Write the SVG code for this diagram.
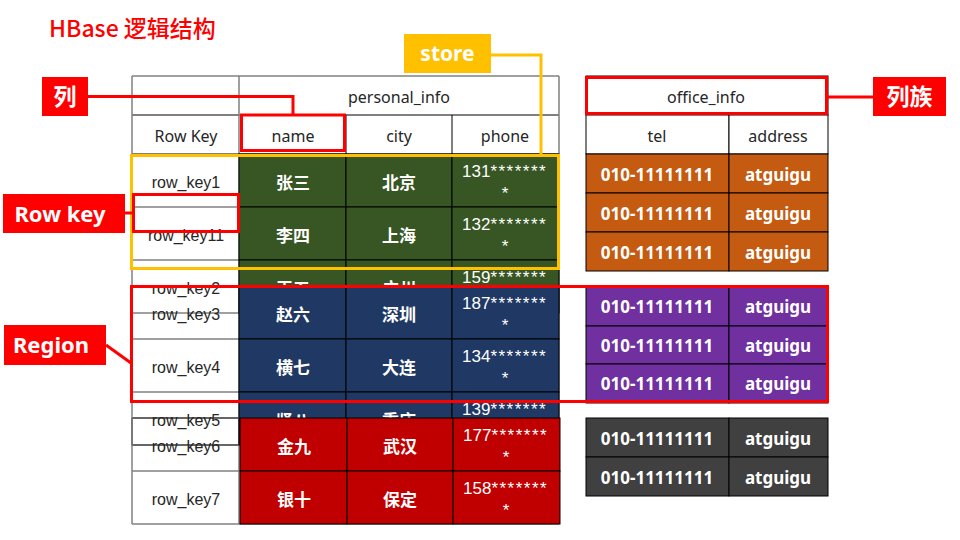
<svg xmlns="http://www.w3.org/2000/svg" width="960" height="540" viewBox="0 0 960 540">
<style>
.hdr{font-family:"Noto Sans","Noto Sans CJK SC",sans-serif;font-size:16px;fill:#262626;text-anchor:middle}
.rk{font-family:"Liberation Sans",Arial,sans-serif;font-size:16px;fill:#262626;text-anchor:middle}
.cn{font-family:"Noto Sans CJK SC",sans-serif;font-size:17px;font-weight:bold;fill:#fff;text-anchor:middle}
.ph{font-family:"Liberation Sans",Arial,sans-serif;font-size:17px;fill:#fff}
.ast{letter-spacing:1.5px}
.rt{font-family:"Noto Sans","Noto Sans CJK SC",sans-serif;font-size:17px;font-weight:bold;fill:#fff;text-anchor:middle}
.lbl{font-family:"Noto Sans","Noto Sans CJK SC",sans-serif;font-weight:bold;fill:#fff;text-anchor:middle}
.g{fill:#375623;stroke:#000;stroke-width:1}
.b{fill:#203864;stroke:#000;stroke-width:1}
.r{fill:#C00000;stroke:#000;stroke-width:1}
.o{fill:#C55A11;stroke:#000;stroke-width:1}
.p{fill:#7030A0;stroke:#000;stroke-width:1}
.d{fill:#404040;stroke:#000;stroke-width:1}
.gl{stroke:#808080;stroke-width:1.5;fill:none}
.bl{stroke:#000;stroke-width:1;fill:none}
.red{stroke:#FF0000;stroke-width:3;fill:none}
.yel{stroke:#FFC000;stroke-width:3;fill:none}
</style>
<rect width="960" height="540" fill="#fff"/>
<text id="title" x="49" y="37" font-family="'Noto Sans CJK SC','Noto Sans',sans-serif" font-size="23" font-weight="500" fill="#FF0000">HBase 逻辑结构</text>

<g id="left-table">
  <line class="gl" x1="132" y1="76" x2="559" y2="76"/>
  <line class="bl" x1="132" y1="115" x2="559" y2="115"/>
  <line class="gl" x1="239" y1="76" x2="239" y2="154"/>
  <line class="bl" x1="346" y1="115" x2="346" y2="154"/>
  <line class="bl" x1="452" y1="115" x2="452" y2="154"/>
  <line class="bl" x1="132" y1="154" x2="559" y2="154"/>
  <text class="hdr" x="399" y="102.5">personal_info</text>
  <text class="hdr" x="186" y="141.5">Row Key</text>
  <text class="hdr" x="293" y="141.5">name</text>
  <text class="hdr" x="399" y="141.5">city</text>
  <text class="hdr" x="505" y="141.5">phone</text>
  <line class="gl" x1="132" y1="207" x2="239" y2="207"/>
  <line class="gl" x1="132" y1="260" x2="239" y2="260"/>
  <line class="gl" x1="132" y1="313" x2="239" y2="313"/>
  <line class="gl" x1="132" y1="339" x2="239" y2="339"/>
  <line class="gl" x1="132" y1="392" x2="239" y2="392"/>
  <line class="gl" x1="132" y1="471" x2="239" y2="471"/>
  <line class="gl" x1="132" y1="524" x2="559" y2="524"/>
  <rect x="132" y="418" width="107" height="27" fill="none" stroke="#000" stroke-width="1.2"/>
  <line class="gl" x1="132" y1="76" x2="132" y2="524"/>
  <line class="gl" x1="239" y1="154" x2="239" y2="524"/>
  <line class="gl" x1="559" y1="76" x2="559" y2="524"/>
  <text class="rk" x="186" y="188">row_key1</text>
  <text class="rk" x="186" y="241">row_key11</text>
  <text class="rk" x="186" y="294">row_key2</text>
  <text class="rk" x="186" y="320">row_key3</text>
  <text class="rk" x="186" y="373">row_key4</text>
  <text class="rk" x="186" y="426">row_key5</text>
  <text class="rk" x="186" y="452">row_key6</text>
  <text class="rk" x="186" y="505">row_key7</text>

  <g id="green-rows">
    <rect class="g" x="239" y="154" width="107" height="53"/><rect class="g" x="346" y="154" width="106" height="53"/><rect class="g" x="452" y="154" width="107" height="53"/>
    <rect class="g" x="239" y="207" width="107" height="53"/><rect class="g" x="346" y="207" width="106" height="53"/><rect class="g" x="452" y="207" width="107" height="53"/>
    <rect class="g" x="239" y="260" width="107" height="53"/><rect class="g" x="346" y="260" width="106" height="53"/><rect class="g" x="452" y="260" width="107" height="53"/>
    <text class="cn" x="293" y="189">张三</text><text class="cn" x="399" y="189">北京</text>
    <text class="ph" x="462" y="177">131<tspan class="ast">*******</tspan></text><text class="ph" x="505" y="199" text-anchor="middle">*</text>
    <text class="cn" x="293" y="242">李四</text><text class="cn" x="399" y="242">上海</text>
    <text class="ph" x="462" y="230">132<tspan class="ast">*******</tspan></text><text class="ph" x="505" y="252" text-anchor="middle">*</text>
    <text class="cn" x="293" y="295">王五</text><text class="cn" x="399" y="295">广州</text>
    <text class="ph" x="462" y="283">159<tspan class="ast">*******</tspan></text>
  </g>
  <g id="blue-rows">
    <rect class="b" x="239" y="286" width="107" height="53"/><rect class="b" x="346" y="286" width="106" height="53"/><rect class="b" x="452" y="286" width="107" height="53"/>
    <rect class="b" x="239" y="339" width="107" height="53"/><rect class="b" x="346" y="339" width="106" height="53"/><rect class="b" x="452" y="339" width="107" height="53"/>
    <rect class="b" x="239" y="392" width="107" height="53"/><rect class="b" x="346" y="392" width="106" height="53"/><rect class="b" x="452" y="392" width="107" height="53"/>
    <text class="cn" x="293" y="321">赵六</text><text class="cn" x="399" y="321">深圳</text>
    <text class="ph" x="462" y="309">187<tspan class="ast">*******</tspan></text><text class="ph" x="505" y="331" text-anchor="middle">*</text>
    <text class="cn" x="293" y="374">横七</text><text class="cn" x="399" y="374">大连</text>
    <text class="ph" x="462" y="362">134<tspan class="ast">*******</tspan></text><text class="ph" x="505" y="384" text-anchor="middle">*</text>
    <text class="cn" x="293" y="427">贤八</text><text class="cn" x="399" y="427">重庆</text>
    <text class="ph" x="462" y="415">139<tspan class="ast">*******</tspan></text>
  </g>
  <g id="red-rows">
    <rect class="r" x="240" y="418" width="107" height="53"/><rect class="r" x="347" y="418" width="106" height="53"/><rect class="r" x="453" y="418" width="107" height="53"/>
    <rect class="r" x="240" y="471" width="107" height="53"/><rect class="r" x="347" y="471" width="106" height="53"/><rect class="r" x="453" y="471" width="107" height="53"/>
    <text class="cn" x="294" y="453">金九</text><text class="cn" x="400" y="453">武汉</text>
    <text class="ph" x="463" y="441">177<tspan class="ast">*******</tspan></text><text class="ph" x="506" y="463" text-anchor="middle">*</text>
    <text class="cn" x="294" y="506">银十</text><text class="cn" x="400" y="506">保定</text>
    <text class="ph" x="463" y="494">158<tspan class="ast">*******</tspan></text><text class="ph" x="506" y="516" text-anchor="middle">*</text>
  </g>
</g>

<g id="right-table">
  <rect x="586" y="76" width="242" height="39" fill="#fff" stroke="#000" stroke-width="1"/>
  <text class="hdr" x="706" y="102.5">office_info</text>
  <rect x="586" y="115" width="143" height="39" fill="#fff" stroke="#000" stroke-width="1"/>
  <rect x="729" y="115" width="99" height="39" fill="#fff" stroke="#000" stroke-width="1"/>
  <text class="hdr" x="657" y="141.5">tel</text>
  <text class="hdr" x="778" y="141.5">address</text>
  <g id="orange-rows">
    <rect class="o" x="586" y="154" width="143" height="39"/><rect class="o" x="729" y="154" width="99" height="39"/>
    <rect class="o" x="586" y="193" width="143" height="39"/><rect class="o" x="729" y="193" width="99" height="39"/>
    <rect class="o" x="586" y="232" width="143" height="39"/><rect class="o" x="729" y="232" width="99" height="39"/>
    <text class="rt" x="657" y="180.5">010-11111111</text><text class="rt" x="778" y="180.5">atguigu</text>
    <text class="rt" x="657" y="219.5">010-11111111</text><text class="rt" x="778" y="219.5">atguigu</text>
    <text class="rt" x="657" y="258.5">010-11111111</text><text class="rt" x="778" y="258.5">atguigu</text>
  </g>
  <g id="purple-rows">
    <rect class="p" x="586" y="287" width="143" height="39"/><rect class="p" x="729" y="287" width="99" height="39"/>
    <rect class="p" x="586" y="326" width="143" height="38"/><rect class="p" x="729" y="326" width="99" height="38"/>
    <rect class="p" x="586" y="364" width="143" height="39"/><rect class="p" x="729" y="364" width="99" height="39"/>
    <text class="rt" x="657" y="313">010-11111111</text><text class="rt" x="778" y="313">atguigu</text>
    <text class="rt" x="657" y="351.5">010-11111111</text><text class="rt" x="778" y="351.5">atguigu</text>
    <text class="rt" x="657" y="390">010-11111111</text><text class="rt" x="778" y="390">atguigu</text>
  </g>
  <g id="gray-rows">
    <rect class="d" x="586" y="418" width="143" height="39"/><rect class="d" x="729" y="418" width="99" height="39"/>
    <rect class="d" x="586" y="457" width="143" height="39"/><rect class="d" x="729" y="457" width="99" height="39"/>
    <text class="rt" x="657" y="444.5">010-11111111</text><text class="rt" x="778" y="444.5">atguigu</text>
    <text class="rt" x="657" y="483.5">010-11111111</text><text class="rt" x="778" y="483.5">atguigu</text>
  </g>
</g>

<g id="highlights">
  <rect id="hl-name" class="red" x="241.5" y="115" width="103" height="35.5" stroke-width="3.5"/>
  <rect id="hl-office" class="red" x="586.5" y="77.5" width="240" height="36"/>
  <rect id="hl-store" class="yel" x="131.5" y="155.5" width="427" height="113"/>
  <rect id="hl-rowkey" class="red" x="133.5" y="194.5" width="105" height="37"/>
  <rect id="hl-region" class="red" x="131.5" y="286.5" width="696" height="115"/>
</g>

<g id="connectors">
  <polyline class="red" points="88,96.5 293,96.5 293,115"/>
  <line class="red" x1="828" y1="97" x2="873" y2="97"/>
  <polyline class="yel" points="491,55 541,55 541,154"/>
  <line class="red" x1="125" y1="213" x2="132" y2="213"/>
  <line class="red" x1="106" y1="345" x2="131" y2="363"/>
</g>

<g id="label-lie">
  <rect x="42" y="77" width="46" height="39" fill="#FF0000"/>
  <text class="lbl" x="65" y="104.5" font-size="23">列</text>
</g>
<g id="label-liezu">
  <rect x="873" y="77" width="73" height="39" fill="#FF0000"/>
  <text class="lbl" x="909.5" y="104.5" font-size="23">列族</text>
</g>
<g id="label-store">
  <rect x="404" y="34" width="87" height="39" fill="#FFC000"/>
  <text class="lbl" x="447.5" y="61" font-size="21">store</text>
</g>
<g id="label-rowkey">
  <rect x="3" y="194" width="122" height="39" fill="#FF0000"/>
  <text class="lbl" x="60" y="221.5" font-size="22">Row key</text>
</g>
<g id="label-region">
  <rect x="4" y="325" width="102" height="40" fill="#FF0000"/>
  <text class="lbl" x="51" y="353" font-size="22">Region</text>
</g>
</svg>
